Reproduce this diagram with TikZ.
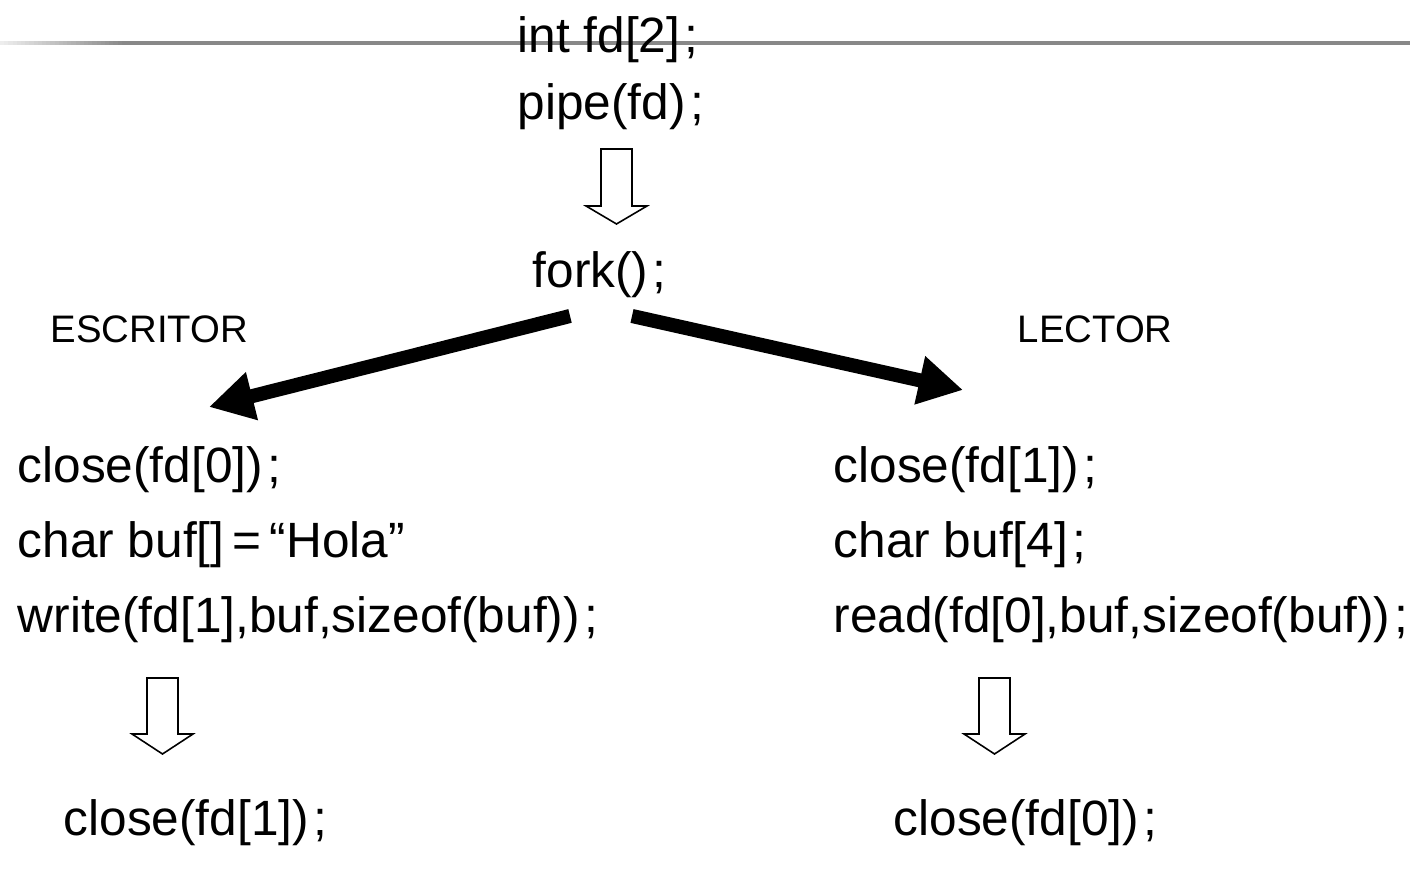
\documentclass[tikz,border=0pt]{standalone}
\usepackage{fontspec}
\setmainfont{Liberation Sans}
\usetikzlibrary{arrows.meta}
\newcommand\semic{\kern1.2pt;}
\definecolor{rulegray}{HTML}{888888}
\tikzset{
  code/.style={inner sep=0pt, anchor=base west, font=\fontsize{14.1pt}{17pt}\selectfont},
  role/.style={inner sep=0pt, anchor=base west, font=\fontsize{10.9pt}{13pt}\selectfont},
  blockarrow/.style={draw=black, line width=0.45pt, fill=white, line join=miter},
  fatarrow/.style={line width=4pt, -{Triangle[length=12.6pt,width=13.2pt]}}
}
\begin{document}
\begin{tikzpicture}[x=0.01cm, y=-0.01cm]
\useasboundingbox (0,0) rectangle (1410,871);

% rule along the top, fading in from the left
\foreach \i in {0,...,29} {
  \pgfmathsetmacro\shadepct{15+85*\i/29}
  \fill[rulegray!\shadepct!white] (\i*4.2,41) rectangle (\i*4.2+4.4,45);
}
\fill[rulegray] (125,41) rectangle (1410,45);

% top of the program
\node[code] (decl) at (517,53) {int fd[2]\semic};
\node[code] (pipe) at (517,120) {pipe(fd)\semic};
\draw[blockarrow] (601,149) -- (632,149) -- (632,206) -- (647,206) -- (616.5,224)
  -- (586,206) -- (601,206) -- cycle;
\node[code] (fork) at (532,288) {fork()\semic};

% the two processes
\node[role] (writerlbl) at (50,343) {ESCRITOR};
\node[role] (readerlbl) at (1017,343) {LECTOR};

\coordinate (forkL) at (570,316);
\coordinate (forkR) at (632,316);
\coordinate (tipL) at (209,407);
\coordinate (tipR) at (963,390);
\draw[fatarrow] (forkL) -- (tipL);
\draw[fatarrow] (forkR) -- (tipR);

% writer side
\node[code] (w1) at (17,483) {close(fd[0])\semic};
\node[code] (w2) at (17,558) {char buf[]\,=\,“Hola”};
\node[code] (w3) at (17,633) {write(fd[1],buf,sizeof(buf))\semic};
\draw[blockarrow] (147,678) -- (178,678) -- (178,734) -- (193,734) -- (162.5,754)
  -- (132,734) -- (147,734) -- cycle;
\node[code] (w4) at (63,835) {close(fd[1])\semic};

% reader side
\node[code] (r1) at (833,483) {close(fd[1])\semic};
\node[code] (r2) at (833,558) {char buf[4]\semic};
\node[code] (r3) at (833,633) {read(fd[0],buf,sizeof(buf))\semic};
\draw[blockarrow] (979,678) -- (1010,678) -- (1010,734) -- (1025,734) -- (994.5,754)
  -- (964,734) -- (979,734) -- cycle;
\node[code] (r4) at (893,835) {close(fd[0])\semic};
\end{tikzpicture}
\end{document}
